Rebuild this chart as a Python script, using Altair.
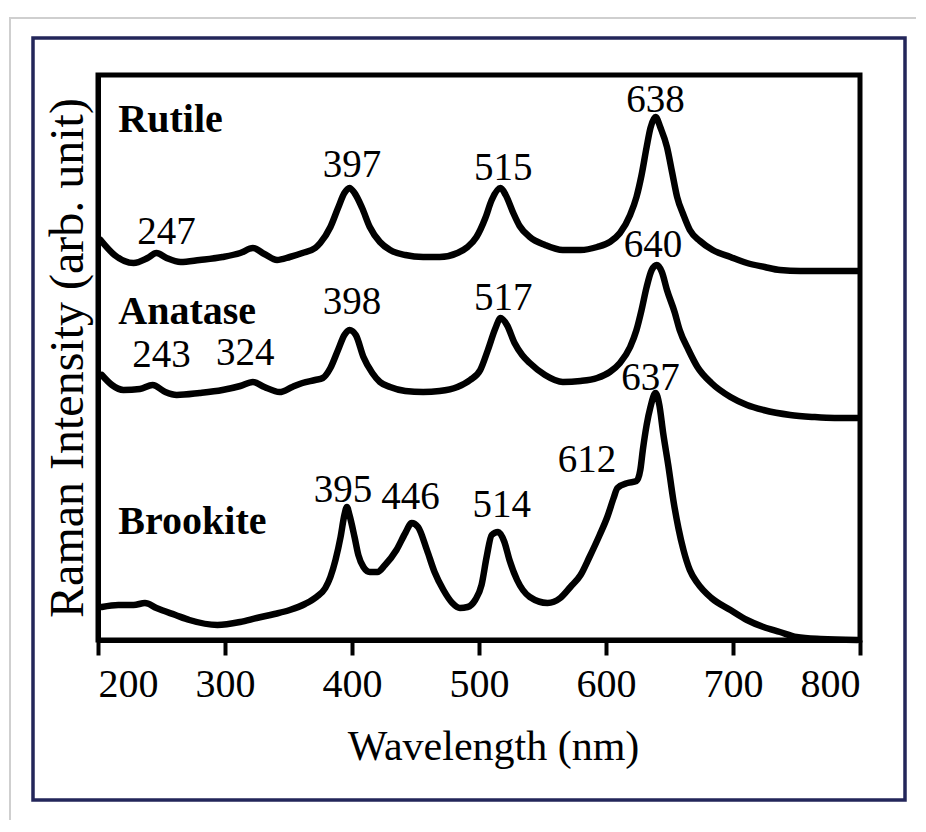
import altair as alt
import pandas as pd

# ---- data ----
rutile_wl = [202, 213, 228, 239, 246, 254, 265, 280, 298, 312, 322, 331, 341, 351, 361, 371, 375,
             383, 389, 394, 398, 402, 408, 414, 422, 430, 442, 456, 469, 483, 491, 498, 505, 510,
             517, 521, 527, 532, 540, 552, 566, 580, 593, 603, 611, 619, 624, 628, 632, 635, 639,
             643, 648, 652, 656, 661, 666, 674, 684, 698, 711, 725, 737, 753, 776, 798]
rutile_int = [400, 385, 377, 382, 387, 382, 378, 380, 383, 387, 392, 386, 380, 383, 387, 392, 397,
              413, 432, 447, 452, 447, 432, 413, 398, 390, 385, 383, 383, 387, 393, 403, 422, 440,
              452, 445, 427, 414, 403, 395, 390, 390, 393, 398, 407, 425, 443, 465, 493, 512, 523,
              512, 493, 468, 443, 425, 410, 399, 390, 383, 377, 373, 370, 369, 369, 369]

anatase_wl = [203, 211, 220, 233, 243, 253, 262, 280, 298, 312, 322, 331, 343, 353, 361, 371, 377,
              383, 389, 394, 398, 403, 409, 416, 422, 430, 442, 456, 469, 483, 493, 501, 507, 513,
              517, 522, 528, 534, 540, 552, 566, 580, 593, 603, 611, 619, 624, 628, 632, 636, 640,
              644, 648, 654, 658, 665, 672, 683, 698, 711, 724, 745, 763, 780, 798]
anatase_int = [265, 255, 250, 251, 255, 248, 245, 247, 250, 254, 258, 253, 248, 253, 257, 260, 262,
               272, 290, 305, 310, 305, 283, 267, 258, 253, 249, 248, 249, 253, 260, 270, 290, 312,
               322, 315, 297, 285, 277, 265, 258, 259, 262, 268, 277, 293, 310, 330, 353, 370, 375,
               368, 350, 328, 310, 290, 273, 257, 243, 235, 230, 225, 223, 222, 222]

brookite_wl = [203, 216, 228, 237, 246, 261, 272, 294, 312, 325, 339, 351, 363, 372, 379, 383, 387,
               391, 394, 396, 398, 402, 405, 409, 414, 420, 426, 435, 442, 447, 452, 459, 465, 472,
               479, 485, 491, 497, 502, 506, 510, 515, 520, 524, 530, 540, 554, 564, 572, 580, 587,
               595, 601, 606, 609, 617, 624, 627, 629, 632, 635, 639, 642, 645, 649, 653, 657, 661,
               666, 672, 683, 698, 711, 724, 737, 750, 769, 798]
brookite_int = [33, 35, 35, 37, 32, 25, 20, 15, 18, 22, 26, 30, 36, 43, 52, 63, 80,
                103, 125, 133, 125, 103, 85, 73, 68, 68, 75, 90, 107, 117, 113, 90, 68, 50,
                37, 32, 33, 40, 55, 83, 105, 108, 98, 80, 60, 43, 37, 42, 53, 65, 83,
                105, 123, 142, 152, 157, 159, 170, 190, 215, 233, 247, 235, 207, 175, 140, 112, 90,
                70, 57, 42, 30, 20, 13, 8, 3, 1, 0]

name_text = ["Rutile", "Anatase", "Brookite"]
name_wl = [216, 216, 216]
name_int = [520, 328, 118]

peak_text = ["247", "397", "515", "638", "243", "324", "398", "517", "640",
             "395", "446", "514", "612", "637"]
peak_wl = [254, 400, 519, 639, 250, 316, 400, 519, 637, 393, 446, 518, 585, 635]
peak_int = [408, 475, 472, 540, 285, 287, 338, 342, 395, 150, 143, 135, 180, 262]

x_ticks = [200, 300, 400, 500, 600, 700, 800]

# ---- tables ----
rows = []
for nm, wl, iv in (("Rutile", rutile_wl, rutile_int),
                   ("Anatase", anatase_wl, anatase_int),
                   ("Brookite", brookite_wl, brookite_int)):
    for i, (a, b) in enumerate(zip(wl, iv)):
        rows.append({"phase": nm, "order": i, "wl": a, "I": b})
spectra = pd.DataFrame(rows)
names = pd.DataFrame({"t": name_text, "wl": name_wl, "I": name_int})
peaks = pd.DataFrame({"t": peak_text, "wl": peak_wl, "I": peak_int})

SERIF = "Times New Roman, Liberation Serif, DejaVu Serif, serif"

xs = alt.Scale(domain=[200, 800], nice=False, zero=False)
ys = alt.Scale(domain=[0, 565], nice=False, zero=False)

lines = alt.Chart(spectra).mark_line(color="black", strokeWidth=6.5, interpolate="monotone",
                                     strokeJoin="round", strokeCap="round").encode(
    x=alt.X("wl:Q", scale=xs,
            axis=alt.Axis(title="Wavelength (nm)", values=x_ticks, format="d",
                          grid=False, labelFlush=True, titleX=395, titleFontSize=42)),
    y=alt.Y("I:Q", scale=ys,
            axis=alt.Axis(title="Raman Intensity (arb. unit)", ticks=False, labels=False,
                          grid=False, titleFontSize=48)),
    detail="phase:N",
    order="order:Q",
)

name_layer = alt.Chart(names).mark_text(font=SERIF, fontSize=40, fontWeight="bold",
                                        align="left", baseline="middle", color="black").encode(
    x="wl:Q", y="I:Q", text="t:N")

peak_layer = alt.Chart(peaks).mark_text(font=SERIF, fontSize=39, align="center",
                                        baseline="middle", color="black").encode(
    x="wl:Q", y="I:Q", text="t:N")

# decorative frames around the figure (outside the plot area)
navy = alt.Chart(pd.DataFrame({"k": [0]})).mark_rect(
    fill="transparent", stroke="#23265a", strokeWidth=3.5).encode(
    x=alt.value(-65), x2=alt.value(807), y=alt.value(-37), y2=alt.value(725))
gray = alt.Chart(pd.DataFrame({"k": [0]})).mark_rect(
    fill="transparent", stroke="#cfcfcf", strokeWidth=2).encode(
    x=alt.value(-88), x2=alt.value(900), y=alt.value(-57), y2=alt.value(900))

chart = alt.layer(gray, navy, lines, name_layer, peak_layer).properties(
    width=762, height=565,
    autosize=alt.AutoSizeParams(type="none"),
    padding={"left": 90, "top": 67, "right": 56, "bottom": 180},
).configure_view(
    stroke="black", strokeWidth=5
).configure_axis(
    domainColor="black", domainWidth=5, tickColor="black", tickWidth=4, tickSize=15,
    labelFont=SERIF, labelFontSize=40, labelColor="black", labelPadding=9,
    titleFont=SERIF, titleFontWeight="normal", titleColor="black",
).configure_axisX(
    titlePadding=22,
).configure_axisY(
    titlePadding=6,
)

chart.save("out.html", embed_options={"renderer": "svg", "actions": False})
